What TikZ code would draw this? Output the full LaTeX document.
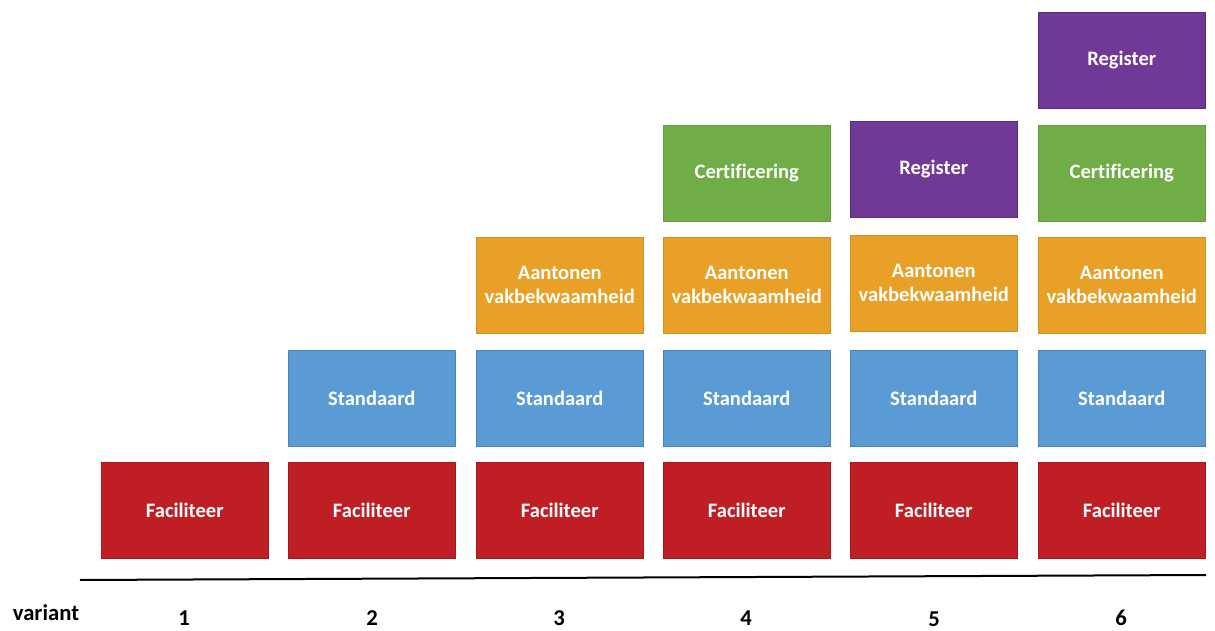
\documentclass[tikz,border=0pt]{standalone}
\usepackage{fontspec}
\setmainfont[Ligatures=NoCommon]{Carlito}
\definecolor{cred}{HTML}{BE1E24}
\definecolor{cblue}{HTML}{5B9BD5}
\definecolor{corange}{HTML}{E8A027}
\definecolor{cgreen}{HTML}{70AD47}
\definecolor{cpurple}{HTML}{703897}
\begin{document}
\begin{tikzpicture}[x=0.75pt,y=-0.75pt,
  blk/.style={anchor=north west, minimum width=125.25pt, minimum height=72pt,
    inner sep=0pt, text=white, align=center,
    font=\fontsize{15.4pt}{18pt}\selectfont\bfseries},
  fac/.style={blk, fill=cred, draw=cred!85!black, line width=0.4pt},
  std/.style={blk, fill=cblue, draw=cblue!85!black, line width=0.4pt},
  aan/.style={blk, fill=corange, draw=corange!90!black, line width=0.4pt},
  cert/.style={blk, fill=cgreen, draw=cgreen!90!black, line width=0.4pt},
  reg/.style={blk, fill=cpurple, draw=cpurple!80!black, line width=0.4pt},
  lab/.style={inner sep=0pt, font=\fontsize{17pt}{18pt}\selectfont\bfseries, text=black},
  axis/.style={line width=1.5pt, black}
]
\useasboundingbox (0,0) rectangle (1215,631);
% bottom row
\node[fac] (f1) at (101,462) {Faciliteer};
\node[fac] (f2) at (288,462) {Faciliteer};
\node[fac] (f3) at (476,462) {Faciliteer};
\node[fac] (f4) at (663,462) {Faciliteer};
\node[fac] (f5) at (850,462) {Faciliteer};
\node[fac] (f6) at (1038,462) {Faciliteer};
% standaard
\node[std] (s2) at (288,350) {Standaard};
\node[std] (s3) at (476,350) {Standaard};
\node[std] (s4) at (663,350) {Standaard};
\node[std] (s5) at (850,350) {Standaard};
\node[std] (s6) at (1038,350) {Standaard};
% aantonen
\node[aan] (a3) at (476,237) {Aantonen\\vakbekwaamheid};
\node[aan] (a4) at (663,237) {Aantonen\\vakbekwaamheid};
\node[aan] (a5) at (850,235) {Aantonen\\vakbekwaamheid};
\node[aan] (a6) at (1038,237) {Aantonen\\vakbekwaamheid};
% certificering / register
\node[cert] (c4) at (663,125) {Certificering};
\node[reg] (r5) at (850,121) {Register};
\node[cert] (c6) at (1038,125) {Certificering};
\node[reg] (r6) at (1038,12) {Register};
% axis
\coordinate (axL) at (80,580);
\coordinate (axR) at (1206,575);
\draw[axis] (axL) -- (axR);
% labels
\node[lab] (var) at (46,613) {variant};
\node[lab] (v1) at (184,618) {1};
\node[lab] (v2) at (372,618) {2};
\node[lab] (v3) at (559,618) {3};
\node[lab] (v4) at (746,618) {4};
\node[lab] (v5) at (934,619) {5};
\node[lab] (v6) at (1121,618) {6};
\end{tikzpicture}
\end{document}
